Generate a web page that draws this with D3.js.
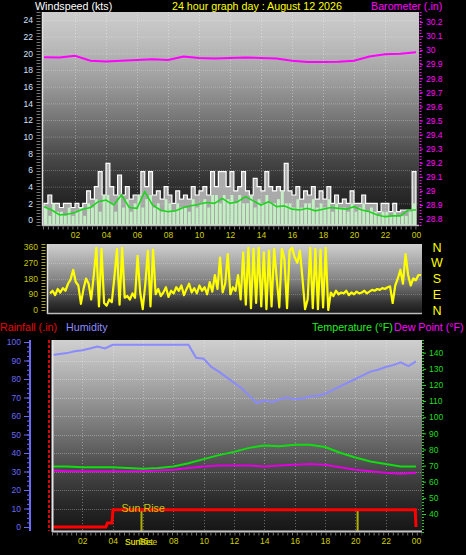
<!DOCTYPE html>
<html><head><meta charset="utf-8">
<script src="https://cdn.jsdelivr.net/npm/d3@7"></script>
<style>body{margin:0;background:#000;} svg{display:block;}</style>
</head><body><svg id="c" width="466" height="555"></svg>
<script>
// ---------- DATA ----------
const hourTickValues = [2,4,6,8,10,12,14,16,18,20,22,24];
const hourTickLabels = ["02","04","06","08","10","12","14","16","18","20","22","00"];
const windTicks = [0,2,4,6,8,10,12,14,16,18,20,22,24];
const baroTicks = [28.8,28.9,29,29.1,29.2,29.3,29.4,29.5,29.6,29.7,29.8,29.9,30,30.1,30.2];
const dirTicks = [0,90,180,270,360];
const dirLetters = ["N","E","S","W","N"];
const humTicks = [0,10,20,30,40,50,60,70,80,90,100];
const rainTicks = [0,0.1,0.2,0.3,0.4,0.5,0.6,0.7,0.8,0.9,1,1.1,1.2];
const tempTicks = [40,50,60,70,80,90,100,110,120,130,140];

// wind gust (kts), every 15 minutes
const windGust = [2,3,2,2, 1.5,2,2,1.5, 2,1.5,2,3.5, 2.5,4,5.8,3, 6.8,4,3,5.4, 3,4,2.5,3,
  3,5.8,4,5.8, 3,3.5,2.5,4, 3,2,3.5,2.5, 3,2.5,4,3, 3.5,4,3,5.8, 4,5.8,5.8,4,
  5.8,3.5,4,5.8, 3.5,3,5,4, 3.5,5.8,4,3.5, 4,3.5,6.8,3.5, 3,4,2.5,3.5, 3,4,2.5,3.5,
  2.5,4,2,3, 2,2.5,2,3.5, 2,2,3,2, 2,2,1,2, 2,1,2,1, 1.2,1.2,1.2,5.8];
// wind speed bars (kts), every 15 minutes
const windBars = [1.5,0.5,2,1, 1,0.5,1.5,0.5, 1,1.5,0.5,2, 1.5,2.5,1,3, 3,2,1,3, 1.5,2.5,1,2,
  3,1.5,2.5,3, 1.5,2,1,2.5, 2,1,2,1.5, 1.5,1,2.5,1.5, 2,2.5,1.5,3, 3,2,3,2.5,
  3,2,3,2, 2,3,1.5,2.5, 2,3,2,2, 2.5,3.5,2,2, 1.5,2.5,1.5,2, 2,2.5,1.5,2,
  1.5,2.5,1,2, 1.5,1.5,1,2, 1,1.5,2,1, 1.5,1,0.5,1, 1,0.5,1,0.5, 0.5,0.5,1,2];
// average wind speed (kts), every 30 minutes
const windAvg = [1.6,1.2, 0.6,0.7, 0.9,1.3, 1.5,2.2, 2.4,1.8, 3.0,1.5, 1.4,3.4, 1.8,1.2,
  1.0,1.1, 1.5,1.7, 1.9,2.1, 2.0,2.6, 2.0,2.2, 2.8,2.3, 1.8,2.2, 1.6,1.7,
  1.3,1.2, 1.4,1.1, 1.3,1.5, 1.4,1.3, 1.6,1.2, 1.0,0.6, 0.4,0.5, 0.5,1.2, 1.2];
// barometer (in), hourly
const barometer = [29.95,29.948,29.96,29.925,29.92,29.925,29.93,29.935,29.93,29.955,29.945,29.94,
  29.945,29.948,29.945,29.94,29.925,29.915,29.915,29.918,29.925,29.955,29.97,29.975,29.985];
// wind direction (deg), every 10 minutes
const windDir = [95,110,85,120,100,125, 110,150,175,230,160,140, 35,120,180,150,60,200,
  355,20,350,40,25,60, 45,190,350,30,355,70, 80,60,95,70,310,100,
  5,150,340,20,345,90, 120,80,100,130,75,110, 95,130,110,140,85,120,
  150,100,125,95,140,110, 130,90,160,105,200,120, 300,100,150,320,90,130,
  110,200,60,330,30,355, 10,350,40,355,20,330, 5,340,20,350,180,15,
  350,290,10,340,355,300, 270,340,180,5,60,355, 10,350,5,345,15,355,
  0,100,80,110,90,100, 95,110,85,100,90,105, 95,100,110,95,105,115,
  110,120,115,125,120,130, 135,40,140,180,230,150, 320,200,140,180,170,200, 200];
// humidity (%), every 30 minutes
const humidity = [93,93.5,94,95,95.5,96.5,97.5,96.5,98.5,98.5,98.5,98.5,98.5,98.5,98.5,98.5,98.5,98.5,98.5,
  91.5,91,86.5,84,81,78,75,71,67,68.5,67.5,69,70,69,69.5,70.5,71,72,74,76,78,80,82,84,85,86.5,87.5,89,87,89.5];
// temperature & dew point (F), hourly
const temperature = [69.5,69.5,69,69,69,68.5,68,68.5,69.5,71.5,74,76.5,78.5,81,82.5,82,83,83,81.5,78,75,72.5,71,69.5,69.5];
const dewPoint = [67,66.5,66.5,66.5,66.5,66.5,66.5,67,67.5,68.5,69.5,70,70,70,69.5,70,70.5,71,70.5,69,67.5,66.5,65.5,65,65.5];
// rainfall (in)
const rainHours = [0,3.55,3.65,3.95,4.02,23.95,24];
const rainValues = [0,0,0.025,0.025,0.11,0.11,0];
const sunHours = [5.9,20.15];

// ---------- DRAW ----------
const FONT = '"Liberation Sans", Arial, sans-serif';
const svg = d3.select("#c").attr("font-family", FONT);
svg.append("rect").attr("width",466).attr("height",555).attr("fill","#000");
const defs = svg.append("defs");
function grad(id, stops){
  const g = defs.append("linearGradient").attr("id",id).attr("x1",0).attr("y1",0).attr("x2",0).attr("y2",1);
  stops.forEach(([o,c])=>g.append("stop").attr("offset",o).attr("stop-color",c));
}
grad("gTop",[[0,"#cdcdcd"],[0.15,"#bcbcbc"],[0.32,"#9e9e9e"],[0.5,"#767676"],[0.65,"#505050"],[0.8,"#313131"],[1,"#161616"]]);
grad("gMid",[[0,"#d0d0d0"],[0.25,"#ababab"],[0.5,"#868686"],[0.72,"#545454"],[0.85,"#333"],[1,"#1a1a1a"]]);
grad("gBot",[[0,"#cfcfcf"],[0.1,"#c0c0c0"],[0.31,"#969696"],[0.52,"#6b6b6b"],[0.68,"#484848"],[0.84,"#2b2b2b"],[1,"#161616"]]);
function clip(id,x,y,w,h){ defs.append("clipPath").attr("id",id).append("rect").attr("x",x).attr("y",y).attr("width",w).attr("height",h); }
function styleAxis(g, color, size){
  g.attr("font-family", FONT).attr("font-size", size);
  g.selectAll("text").attr("fill", color);
  g.selectAll(".tick line").attr("stroke", color);
  g.select(".domain").remove();
}
const fmt = d => String(+(+d).toFixed(1));

// ===== TOP: wind speed & barometer =====
const T = {l:43, r:419, t:12, b:225};
const xT = d3.scaleLinear([0,24],[44,416]);
const yWind = d3.scaleLinear([0,24],[220,20]);
const yBaro = d3.scaleLinear([28.8,30.2],[219,22]);
clip("cTop",T.l,T.t,T.r-T.l,T.b-T.t);
svg.append("rect").attr("x",T.l).attr("y",T.t).attr("width",T.r-T.l).attr("height",T.b-T.t).attr("fill","url(#gTop)");
const gT = svg.append("g").attr("clip-path","url(#cTop)");
gT.selectAll(".hg").data(windTicks.slice(1)).join("line").attr("x1",T.l).attr("x2",T.r)
  .attr("y1",d=>yWind(d)+0.5).attr("y2",d=>yWind(d)+0.5).attr("stroke","rgba(255,255,255,0.25)").attr("stroke-dasharray","1,1");
gT.selectAll(".vg").data(hourTickValues.slice(0,-1)).join("line").attr("y1",T.t).attr("y2",T.b)
  .attr("x1",d=>Math.round(xT(d))+0.5).attr("x2",d=>Math.round(xT(d))+0.5).attr("stroke","rgba(255,255,255,0.35)").attr("stroke-dasharray","1,2");
const gustPts = windGust.map((v,i)=>({t:i*0.25,v})).concat([{t:24,v:windGust[windGust.length-1]}]);
gT.append("path").datum(gustPts)
  .attr("d", d3.area().curve(d3.curveStepAfter).x(d=>xT(d.t)).y0(T.b).y1(d=>yWind(d.v)))
  .attr("fill","rgba(225,225,225,0.7)").attr("stroke","#fff").attr("stroke-width",1.2);
const bw = xT(0.25)-xT(0);
gT.selectAll(".wb").data(windBars).join("rect")
  .attr("x",(d,i)=>xT(i*0.25)+0.5).attr("width",bw-1)
  .attr("y",d=>yWind(d)).attr("height",d=>T.b-yWind(d)).attr("fill","#c6f5c6").attr("opacity",0.9);
gT.append("path").datum(windAvg)
  .attr("d", d3.line().x((d,i)=>xT(i*0.5)).y(d=>yWind(d)))
  .attr("fill","none").attr("stroke","#1fd41f").attr("stroke-width",1.6);
gT.append("path").datum(barometer)
  .attr("d", d3.line().x((d,i)=>xT(i)).y(d=>yBaro(d)))
  .attr("fill","none").attr("stroke","#ff00ff").attr("stroke-width",2);
// borders
svg.append("line").attr("x1",42.5).attr("x2",42.5).attr("y1",T.t).attr("y2",T.b+1).attr("stroke","#e0e0e0").attr("stroke-width",1.5);
svg.append("line").attr("x1",42).attr("x2",T.r).attr("y1",T.b+0.5).attr("y2",T.b+0.5).attr("stroke","#bdbdbd").attr("stroke-width",1.5);
svg.append("line").attr("x1",38.5).attr("x2",38.5).attr("y1",T.t).attr("y2",T.b+2).attr("stroke","#777").attr("stroke-width",4).attr("stroke-dasharray","1,2");
svg.append("line").attr("x1",T.l).attr("x2",T.r).attr("y1",228).attr("y2",228).attr("stroke","#777").attr("stroke-width",3).attr("stroke-dasharray","1,3.9");
svg.append("line").attr("x1",420.5).attr("x2",420.5).attr("y1",T.t).attr("y2",T.b+2).attr("stroke","#ff00ff").attr("stroke-width",2).attr("stroke-dasharray","1,2");
const axWL = svg.append("g").attr("transform","translate(35,0)")
  .call(d3.axisLeft(yWind).tickValues(windTicks).tickSize(0).tickPadding(2));
styleAxis(axWL,"#d6e4ff",8.5);
const axBR = svg.append("g").attr("transform","translate(420,0)")
  .call(d3.axisRight(yBaro).tickValues(baroTicks).tickFormat(fmt).tickSize(3).tickPadding(3));
styleAxis(axBR,"#ff00ff",8.5);
const axTX = svg.append("g").attr("transform","translate(0,228)")
  .call(d3.axisBottom(xT).tickValues(hourTickValues).tickFormat((d,i)=>hourTickLabels[i]).tickSize(0).tickPadding(4));
styleAxis(axTX,"#d0d000",8.5);
// titles
svg.append("text").attr("x",35).attr("y",9.5).attr("font-size",10.7).attr("fill","#fff").text("Windspeed (kts)");
svg.append("text").attr("x",172).attr("y",9.5).attr("font-size",10.7).attr("fill","#ffff00").text("24 hour graph day : August 12 2026");
svg.append("text").attr("x",371).attr("y",9.5).attr("font-size",10.7).attr("fill","#ff00ff").text("Barometer (.in)");

// ===== MIDDLE: wind direction =====
const M = {l:47, r:422, t:244, b:313};
const xM = d3.scaleLinear([0,24],[50,421]);
const yDir = d3.scaleLinear([0,360],[310,247]);
clip("cMid",M.l,M.t,M.r-M.l,M.b-M.t);
svg.append("rect").attr("x",M.l).attr("y",M.t).attr("width",M.r-M.l).attr("height",M.b-M.t).attr("fill","url(#gMid)");
const gM = svg.append("g").attr("clip-path","url(#cMid)");
gM.selectAll(".hg").data(dirTicks.slice(1,4)).join("line").attr("x1",M.l).attr("x2",M.r)
  .attr("y1",d=>Math.round(yDir(d))+0.5).attr("y2",d=>Math.round(yDir(d))+0.5).attr("stroke","rgba(255,255,255,0.22)").attr("stroke-dasharray","1,1");
gM.append("path").datum(windDir)
  .attr("d", d3.line().x((d,i)=>xM(i/6)).y(d=>yDir(d)))
  .attr("fill","none").attr("stroke","#ffff00").attr("stroke-width",2.2).attr("stroke-linejoin","round");
svg.append("line").attr("x1",47.5).attr("x2",47.5).attr("y1",M.t).attr("y2",M.b+1).attr("stroke","#e0e0e0").attr("stroke-width",1.5);
svg.append("line").attr("x1",47).attr("x2",M.r).attr("y1",M.b+0.5).attr("y2",M.b+0.5).attr("stroke","#bdbdbd").attr("stroke-width",1.5);
svg.append("line").attr("x1",43.5).attr("x2",43.5).attr("y1",M.t).attr("y2",M.b).attr("stroke","#a8a800").attr("stroke-width",4).attr("stroke-dasharray","1,2");
const axDL = svg.append("g").attr("transform","translate(41,0)")
  .call(d3.axisLeft(yDir).tickValues(dirTicks).tickSize(0).tickPadding(3));
styleAxis(axDL,"#c8c800",8.5);
svg.selectAll(".dl").data(dirTicks).join("text").attr("x",437).attr("y",d=>yDir(d))
  .attr("dy","0.36em").attr("text-anchor","middle").attr("font-size",12.5).attr("fill","#ffff00")
  .text((d,i)=>dirLetters[i]);

// ===== BOTTOM: rain, humidity, temperature, dew point =====
const B = {l:52, r:422, t:340, b:531};
const xB = d3.scaleLinear([0,24],[52,416]);
const yHum = d3.scaleLinear([0,100],[527,342]);
const yRain = d3.scaleLinear([0,1.1],[527,355.7]);
const yTemp = d3.scaleLinear([40,140],[514,352.7]);
clip("cBot",B.l,B.t,B.r-B.l,B.b-B.t);
clip("cRainAx",0,337,60,200);
svg.append("rect").attr("x",B.l).attr("y",B.t).attr("width",B.r-B.l).attr("height",B.b-B.t).attr("fill","url(#gBot)");
const gB = svg.append("g").attr("clip-path","url(#cBot)");
gB.selectAll(".hg").data(humTicks.slice(1,10)).join("line").attr("x1",B.l).attr("x2",B.r)
  .attr("y1",d=>Math.round(yHum(d))+0.5).attr("y2",d=>Math.round(yHum(d))+0.5).attr("stroke","rgba(255,255,255,0.3)").attr("stroke-dasharray","1,1");
gB.selectAll(".vg").data(hourTickValues.slice(0,-1)).join("line").attr("y1",B.t).attr("y2",B.b)
  .attr("x1",d=>Math.round(xB(d))+0.5).attr("x2",d=>Math.round(xB(d))+0.5).attr("stroke","rgba(255,255,255,0.35)").attr("stroke-dasharray","1,2");
gB.selectAll(".sun").data(sunHours).join("line").attr("x1",d=>xB(d)).attr("x2",d=>xB(d))
  .attr("y1",510).attr("y2",B.b).attr("stroke","#b0b000").attr("stroke-width",2);
gB.append("path").datum(humidity).attr("d", d3.line().x((d,i)=>xB(i*0.5)).y(d=>yHum(d)))
  .attr("fill","none").attr("stroke","#8a8aff").attr("stroke-width",2);
gB.append("path").datum(temperature).attr("d", d3.line().x((d,i)=>xB(i)).y(d=>yTemp(d)))
  .attr("fill","none").attr("stroke","#11dd11").attr("stroke-width",2);
gB.append("path").datum(dewPoint).attr("d", d3.line().x((d,i)=>xB(i)).y(d=>yTemp(d)))
  .attr("fill","none").attr("stroke","#e000e0").attr("stroke-width",2);
gB.append("path").datum(rainValues).attr("d", d3.line().x((d,i)=>xB(rainHours[i])).y(d=>yRain(d)))
  .attr("fill","none").attr("stroke","#ff0000").attr("stroke-width",3);
svg.append("text").attr("x",xB(sunHours[0])-20).attr("y",511.5).attr("font-size",10.7).attr("fill","#c8c800").text("Sun Rise");
svg.append("line").attr("x1",52.5).attr("x2",52.5).attr("y1",B.t).attr("y2",B.b+1).attr("stroke","#e6e6e6").attr("stroke-width",2);
svg.append("line").attr("x1",52).attr("x2",B.r).attr("y1",B.b+0.5).attr("y2",B.b+0.5).attr("stroke","#c8c8c8").attr("stroke-width",2);
svg.append("line").attr("x1",B.l).attr("x2",B.r).attr("y1",534).attr("y2",534).attr("stroke","#777").attr("stroke-width",3).attr("stroke-dasharray","1,3.8");
// humidity axis
svg.append("line").attr("x1",30).attr("x2",30).attr("y1",B.t).attr("y2",B.b).attr("stroke","#6b6bff").attr("stroke-width",2);
const axHmin = svg.append("g").attr("transform","translate(29,0)")
  .call(d3.axisLeft(yHum).tickValues(d3.range(0,101,2.5)).tickFormat("").tickSize(2));
styleAxis(axHmin,"#6b6bff",8);
const axH = svg.append("g").attr("transform","translate(29,0)")
  .call(d3.axisLeft(yHum).tickValues(humTicks).tickSize(5).tickPadding(3));
styleAxis(axH,"#6a6af0",8.5);
// rain axis
svg.append("line").attr("x1",49).attr("x2",49).attr("y1",B.t).attr("y2",B.b).attr("stroke","#dd0000").attr("stroke-width",2).attr("stroke-dasharray","3,2");
const axR = svg.append("g").attr("transform","translate(48,0)").attr("clip-path","url(#cRainAx)")
  .call(d3.axisLeft(yRain).tickValues(rainTicks).tickFormat(fmt).tickSize(3).tickPadding(1));
styleAxis(axR,"#dd0000",8.5);
// temperature axis
svg.append("line").attr("x1",423).attr("x2",423).attr("y1",B.t).attr("y2",B.b+2).attr("stroke","#22cc22").attr("stroke-width",2).attr("stroke-dasharray","1,2");
const axTp = svg.append("g").attr("transform","translate(423,0)")
  .call(d3.axisRight(yTemp).tickValues(tempTicks).tickSize(3).tickPadding(3));
styleAxis(axTp,"#22dd22",8.5);
// bottom x axis
const axBX = svg.append("g").attr("transform","translate(0,534)")
  .call(d3.axisBottom(xB).tickValues(hourTickValues).tickFormat((d,i)=>hourTickLabels[i]).tickSize(0).tickPadding(4));
styleAxis(axBX,"#d0d000",8.5);
svg.append("text").attr("x",125).attr("y",544.5).attr("font-size",8.5).attr("fill","#d0d000").text("SunSet");
svg.append("text").attr("x",125).attr("y",544.5).attr("font-size",8.5).attr("fill","#d0d000").text("SunRise");
// bottom header
svg.append("text").attr("x",0).attr("y",330.5).attr("font-size",10.7).attr("fill","#ee0000").text("Rainfall (.in)");
svg.append("text").attr("x",66).attr("y",330.5).attr("font-size",10.7).attr("fill","#8c8cff").text("Humidity");
svg.append("text").attr("x",312).attr("y",330.5).attr("font-size",10.7).attr("fill","#22ee22").text("Temperature (°F)");
svg.append("text").attr("x",394).attr("y",330.5).attr("font-size",10.7).attr("fill","#ff00ff").text("Dew Point (°F)");
</script>
</body></html>
